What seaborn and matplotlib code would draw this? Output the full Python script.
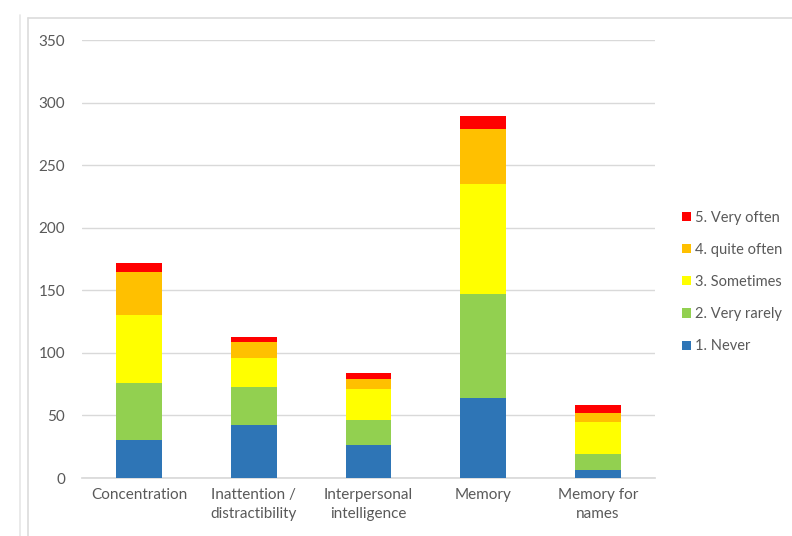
import matplotlib
matplotlib.use("Agg")
import matplotlib.pyplot as plt
from matplotlib.patches import Patch
from matplotlib.lines import Line2D
import seaborn as sns
import pandas as pd
import numpy as np

categories = ["Concentration", "Inattention /\ndistractibility", "Interpersonal\nintelligence",
              "Memory", "Memory for\nnames"]
never = [30, 42, 26, 64, 6]
very_rarely = [46, 31, 20, 83, 13]
sometimes = [54, 23, 25, 88, 26]
quite_often = [35, 13, 8, 44, 7]
very_often = [7, 4, 5, 10, 6]

series_names = ["1. Never", "2. Very rarely", "3. Sometimes", "4. quite often", "5. Very often"]
series_values = [never, very_rarely, sometimes, quite_often, very_often]
colors = ["#2E75B6", "#92D050", "#FFFF00", "#FFC000", "#FF0000"]

sns.set_theme(style="white")
plt.rcParams['font.family'] = ['Lato', 'DejaVu Sans']

fig = plt.figure(figsize=(7.92, 5.36), dpi=100)
ax = fig.add_axes([82/792, 58/536, (655-82)/792, (478-40)/536])

# cumulative stacks, drawn from top layer down
cum = np.cumsum(np.array(series_values), axis=0)
rows = []
for i, name in enumerate(series_names):
    for c, v in zip(categories, cum[i]):
        rows.append({"category": c, "series": name, "cum": v})
df = pd.DataFrame(rows)

for i in reversed(range(len(series_names))):
    sub = df[df["series"] == series_names[i]]
    sns.barplot(data=sub, x="category", y="cum", order=categories, color=colors[i],
                width=0.4, ax=ax, saturation=1, zorder=3, linewidth=0, edgecolor="none")

ax.set_ylim(0, 350)
ax.set_yticks(range(0, 351, 50))
ax.set_xlim(-0.5, 4.5)
ax.set_xlabel("")
ax.set_ylabel("")
ax.yaxis.grid(True, color="#d9d9d9", linewidth=1, zorder=0)
ax.set_axisbelow(True)
for s in ["top", "right", "left"]:
    ax.spines[s].set_visible(False)
ax.spines["bottom"].set_color("#d9d9d9")
ax.tick_params(axis="both", length=0, colors="#595959", labelsize=11)
ax.tick_params(axis="y", pad=12)
ax.tick_params(axis="x", pad=7)
for t in ax.get_xticklabels():
    t.set_multialignment("center")
    t.set_linespacing(1.45)

handles = [Patch(facecolor=colors[i], edgecolor="none") for i in reversed(range(5))]
labels = [series_names[i] for i in reversed(range(5))]
leg = fig.legend(handles, labels, loc="center left", bbox_to_anchor=(682/792, (536-282)/536),
                 frameon=False, fontsize=10.5, labelspacing=1.25, handlelength=0.6,
                 handleheight=0.6, handletextpad=0.3, borderaxespad=0, borderpad=0)
for t in leg.get_texts():
    t.set_color("#595959")

# chart frame decorations
fig.add_artist(Line2D([28/792, 28/792], [0, 1-18/536], color="#dcdcdc", lw=1.2, transform=fig.transFigure))
fig.add_artist(Line2D([28/792, 1], [1-18/536, 1-18/536], color="#dcdcdc", lw=1.2, transform=fig.transFigure))
fig.add_artist(Line2D([20/792, 20/792], [0, 1-15/536], color="#e6e6e6", lw=1.2, transform=fig.transFigure))

fig.savefig("out.png", dpi=100)
